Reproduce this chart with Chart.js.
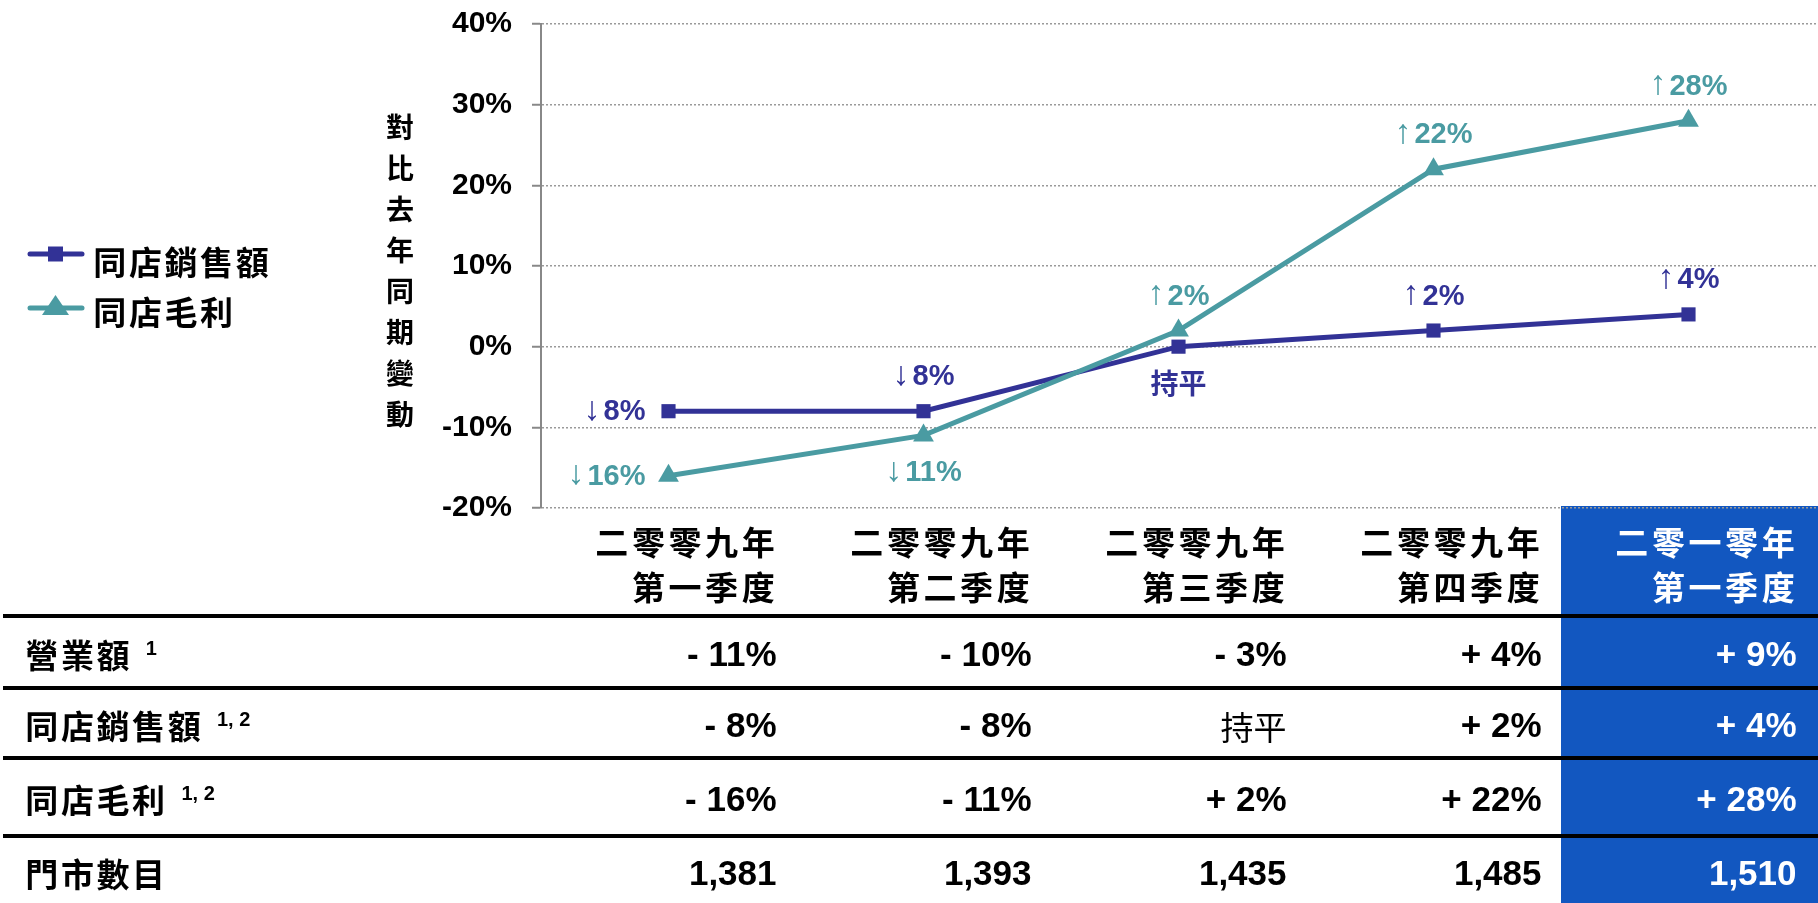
<!DOCTYPE html>
<html>
<head>
<meta charset="utf-8">
<script src="https://cdn.jsdelivr.net/npm/chart.js@4.4.1/dist/chart.umd.min.js"></script>
<style>
  html, body { margin: 0; padding: 0; background: #fff; }
  #wrap { width: 1818px; height: 903px; }
</style>
</head>
<body>
<div id="wrap"><canvas id="compChart" width="1818" height="903"></canvas></div>
<script>
// Quarters (two-line column headers)
const quarters = [
  ["二零零九年", "第一季度"],
  ["二零零九年", "第二季度"],
  ["二零零九年", "第三季度"],
  ["二零零九年", "第四季度"],
  ["二零一零年", "第一季度"]
];
const seriesNames = ["同店銷售額", "同店毛利"];
const sameStoreSales = [-8, -8, 0, 2, 4];
const sameStoreGP = [-16, -11, 2, 22, 28];
const salesLabels = ["↓8%", "↓8%", "持平", "↑2%", "↑4%"];
const gpLabels = ["↓16%", "↓11%", "↑2%", "↑22%", "↑28%"];
const yTicks = [-20, -10, 0, 10, 20, 30, 40];
const yTitle = "對比去年同期變動";

// Table under the chart
const rowNames = ["營業額", "同店銷售額", "同店毛利", "門市數目"];
const rowNotes = ["1", "1, 2", "1, 2", ""];
const revenueRow = ["- 11%", "- 10%", "- 3%", "+ 4%", "+ 9%"];
const sssRow = ["- 8%", "- 8%", "持平", "+ 2%", "+ 4%"];
const gpRow = ["- 16%", "- 11%", "+ 2%", "+ 22%", "+ 28%"];
const storeRow = ["1,381", "1,393", "1,435", "1,485", "1,510"];

// where each point label sits relative to its point
const salesPlace = ["left", "above", "below", "above", "above"];
const gpPlace = ["left", "below", "above", "above", "above"];

const NAVY = "#323296", TEAL = "#4A9BA2", HILITE = "#1257C0";
const CJK = "'Noto Sans CJK TC', 'Noto Sans CJK JP', sans-serif";
const LAT = "'Liberation Sans', Arial, sans-serif";

// draw CJK text on a fixed pitch, x is the left or right edge
function spaced(ctx, text, x, y, pitch, align) {
  const chars = Array.from(text);
  const start = align === "right" ? x - chars.length * pitch : x;
  ctx.textAlign = "center";
  chars.forEach((c, i) => ctx.fillText(c, start + pitch * (i + 0.5), y));
}

function pointLabel(ctx, text, px, py, color, place) {
  ctx.fillStyle = color;
  ctx.textBaseline = "middle";
  const cy = place === "above" ? py - 35 : place === "below" ? py + 37 : py;
  const first = text[0];
  if (first !== "↑" && first !== "↓") {
    ctx.font = "bold 28px " + CJK;
    ctx.textAlign = "center";
    ctx.fillText(text, px, cy);
    return;
  }
  const rest = text.slice(1);
  ctx.font = "34px " + LAT;
  const aw = ctx.measureText(first).width;
  ctx.font = "bold 29px " + LAT;
  const nw = ctx.measureText(rest).width;
  const total = aw + 3 + nw;
  const left = place === "left" ? px - 23 - total : px - total / 2;
  ctx.textAlign = "left";
  ctx.font = "34px " + LAT;
  ctx.fillText(first, left, cy - 1);
  ctx.font = "bold 29px " + LAT;
  ctx.fillText(rest, left + aw + 3, cy + 1);
}

const tablePlugin = {
  id: "tablePlugin",
  beforeDraw(chart) {
    const ctx = chart.ctx, x = chart.scales.x;
    const last = quarters.length - 1;
    const left = (x.getPixelForValue(last) + x.getPixelForValue(last - 1)) / 2;
    ctx.save();
    ctx.fillStyle = HILITE;
    ctx.fillRect(left, chart.chartArea.bottom - 2, chart.width - left, chart.height);
    ctx.restore();
  },
  afterDraw(chart) {
    const ctx = chart.ctx, x = chart.scales.x;
    const last = quarters.length - 1;
    ctx.save();

    // legend
    [[NAVY, "rect", 254, 262], [TEAL, "triangle", 308, 312]].forEach(([col, shape, ly, ty], i) => {
      ctx.strokeStyle = col;
      ctx.fillStyle = col;
      ctx.lineWidth = 5;
      ctx.lineCap = "round";
      ctx.beginPath();
      ctx.moveTo(30, ly);
      ctx.lineTo(82, ly);
      ctx.stroke();
      ctx.beginPath();
      if (shape === "rect") {
        ctx.rect(48, ly - 7.5, 15, 15);
      } else {
        ctx.moveTo(55.5, ly - 13);
        ctx.lineTo(69, ly + 7);
        ctx.lineTo(42, ly + 7);
        ctx.closePath();
      }
      ctx.fill();
      ctx.fillStyle = "#000";
      ctx.font = "bold 33px " + CJK;
      ctx.textBaseline = "middle";
      spaced(ctx, seriesNames[i], 92, ty, 35.6, "left");
    });

    // y axis title, one character per line
    ctx.fillStyle = "#000";
    ctx.font = "bold 28px " + CJK;
    ctx.textBaseline = "middle";
    Array.from(yTitle).forEach((c, i) => {
      ctx.textAlign = "center";
      ctx.fillText(c, 400, 127 + i * 41);
    });

    // point labels
    const labelSets = [[1, salesLabels, salesPlace, NAVY], [0, gpLabels, gpPlace, TEAL]];
    labelSets.forEach(([di, labels, places, col]) => {
      const meta = chart.getDatasetMeta(di);
      meta.data.forEach((pt, i) => pointLabel(ctx, labels[i], pt.x, pt.y, col, places[i]));
    });

    // column headers
    quarters.forEach((q, i) => {
      const right = x.getPixelForValue(i) + 108;
      ctx.fillStyle = i === last ? "#fff" : "#000";
      ctx.font = "bold 33px " + CJK;
      ctx.textBaseline = "middle";
      spaced(ctx, q[0], right, 542, 36.6, "right");
      spaced(ctx, q[1], right, 587, 36.6, "right");
    });

    // table rows
    const rowY = [655, 726, 800, 874];
    const lineY = [616, 688, 758, 836];
    const rows = [revenueRow, sssRow, gpRow, storeRow];
    ctx.fillStyle = "#000";
    lineY.forEach(ly => ctx.fillRect(3, ly - 2, chart.width - 3, 4));

    rows.forEach((row, r) => {
      const y = rowY[r];
      ctx.fillStyle = "#000";
      ctx.font = "bold 33px " + CJK;
      ctx.textBaseline = "middle";
      const n = Array.from(rowNames[r]).length;
      spaced(ctx, rowNames[r], 24, y, 35.6, "left");
      if (rowNotes[r]) {
        ctx.font = "bold 20px " + LAT;
        ctx.textAlign = "left";
        ctx.textBaseline = "alphabetic";
        ctx.fillText(rowNotes[r], 24 + n * 35.6 + 15, y);
      }
      row.forEach((v, i) => {
        const right = x.getPixelForValue(i) + 108;
        ctx.fillStyle = i === last ? "#fff" : "#000";
        ctx.textAlign = "right";
        ctx.textBaseline = "middle";
        ctx.font = /[0-9]/.test(v) ? "bold 35px " + LAT : "33px " + CJK;
        ctx.fillText(v, right, y + 1);
      });
    });
    ctx.restore();
  }
};

const ctxComp = document.getElementById("compChart").getContext("2d");
new Chart(ctxComp, {
  type: "line",
  data: {
    labels: quarters,
    datasets: [{
      label: seriesNames[1],
      data: sameStoreGP,
      borderColor: TEAL,
      backgroundColor: TEAL,
      borderWidth: 5,
      tension: 0,
      pointStyle: "triangle",
      pointRadius: 12,
      pointBorderWidth: 0,
      pointBackgroundColor: TEAL
    }, {
      label: seriesNames[0],
      data: sameStoreSales,
      borderColor: NAVY,
      backgroundColor: NAVY,
      borderWidth: 5,
      tension: 0,
      pointStyle: "rect",
      pointRadius: 10,
      pointBorderWidth: 0,
      pointBackgroundColor: NAVY
    }]
  },
  options: {
    responsive: false,
    devicePixelRatio: 1,
    animation: false,
    layout: { autoPadding: false, padding: { left: 421, right: 2, top: 24, bottom: 395 } },
    plugins: { legend: { display: false }, tooltip: { enabled: false } },
    scales: {
      x: {
        display: false,
        offset: true,
        ticks: { display: false },
        afterFit: s => { s.paddingLeft = 0; s.paddingRight = 0; }
      },
      y: {
        min: -20,
        max: 40,
        afterFit: s => { s.width = 120; s.paddingTop = 0; s.paddingBottom = 0; },
        afterBuildTicks: s => { s.ticks = yTicks.map(v => ({ value: v })); },
        grid: { color: "#9a9a9a", lineWidth: 1.5, tickLength: 9, tickColor: "#888", tickWidth: 2 },
        border: { display: true, color: "#888", width: 2, dash: [2, 2] },
        ticks: {
          padding: 20,
          color: "#000",
          font: { family: LAT, size: 30, weight: "bold" },
          callback: v => v + "%"
        }
      }
    }
  },
  plugins: [tablePlugin]
});
</script>
</body>
</html>
